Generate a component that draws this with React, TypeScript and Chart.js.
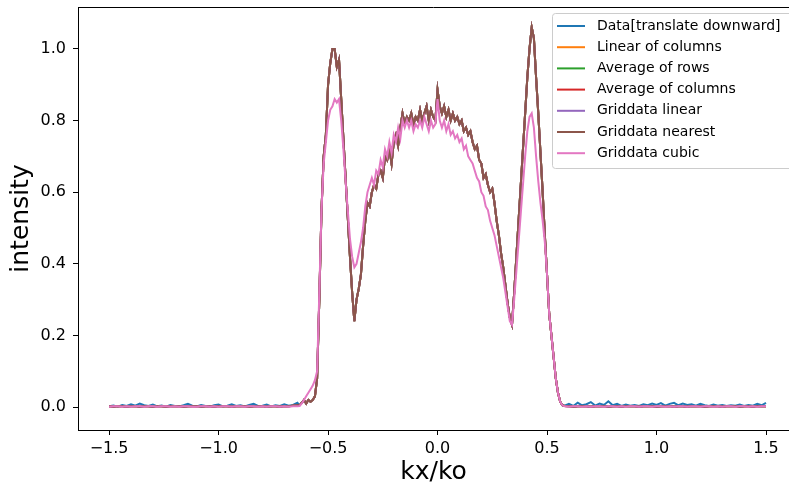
import { useEffect, useRef } from "react";
import { Chart, registerables } from "chart.js";

Chart.register(...registerables);

// ---- sample grid (kx/ko) ----
function grid(start: number, count: number, step: number): number[] {
  return Array.from({ length: count }, (_, i) => Math.round((start + i * step) * 1000) / 1000);
}
const kxLeft = grid(-1.5, 44, 0.02);
const kxMid = grid(-0.63, 121, 0.01);
const kxRight = grid(0.58, 47, 0.02);
const kx = [...kxLeft, ...kxMid, ...kxRight];

// ---- series values ----
const dataLeft = [
  0.002, 0.004, 0.001, 0.006, 0.003, 0.008, 0.004, 0.010, 0.005, 0.003,
  0.007, 0.002, 0.004, 0.001, 0.006, 0.003, 0.002, 0.005, 0.009, 0.004,
  0.002, 0.006, 0.003, 0.001, 0.005, 0.007, 0.002, 0.004, 0.008, 0.003,
  0.005, 0.002, 0.006, 0.009, 0.003, 0.004, 0.007, 0.002, 0.005, 0.003,
  0.008, 0.004, 0.006, 0.012,
];
const dataRight = [
  0.004, 0.009, 0.003, 0.012, 0.005, 0.008, 0.014, 0.004, 0.010, 0.006,
  0.016, 0.005, 0.009, 0.003, 0.007, 0.004, 0.006, 0.003, 0.008, 0.005,
  0.010, 0.006, 0.011, 0.004, 0.009, 0.012, 0.005, 0.010, 0.006, 0.008,
  0.004, 0.009, 0.005, 0.003, 0.007, 0.004, 0.006, 0.003, 0.005, 0.004,
  0.007, 0.003, 0.006, 0.004, 0.009, 0.005, 0.012,
];

const nearestLeft = [
  0.002, 0.001, 0.003, 0.002, 0.001, 0.002, 0.003, 0.001, 0.002, 0.002,
  0.001, 0.003, 0.002, 0.001, 0.002, 0.003, 0.002, 0.001, 0.002, 0.002,
  0.003, 0.001, 0.002, 0.002, 0.001, 0.003, 0.002, 0.002, 0.001, 0.002,
  0.003, 0.002, 0.001, 0.002, 0.002, 0.003, 0.001, 0.002, 0.002, 0.001,
  0.003, 0.002, 0.004, 0.006,
];
const nearestMid = [
  0.005, 0.012, 0.02, 0.01, 0.02, 0.015, 0.02, 0.03, 0.08, 0.30,
  0.55, 0.70, 0.76, 0.90, 0.96, 1.00, 1.00, 0.95, 0.97, 0.86,
  0.75, 0.64, 0.53, 0.42, 0.32, 0.24, 0.30, 0.33, 0.37, 0.45,
  0.52, 0.57, 0.56, 0.60, 0.62, 0.61, 0.65, 0.66, 0.64, 0.70,
  0.69, 0.72, 0.68, 0.74, 0.76, 0.73, 0.78, 0.82, 0.79, 0.81,
  0.80, 0.82, 0.79, 0.81, 0.80, 0.83, 0.80, 0.82, 0.84, 0.80,
  0.83, 0.81, 0.80, 0.885, 0.84, 0.82, 0.84, 0.81, 0.83, 0.80,
  0.82, 0.80, 0.81, 0.79, 0.80, 0.77, 0.78, 0.76, 0.77, 0.74,
  0.72, 0.73, 0.69, 0.68, 0.64, 0.65, 0.62, 0.60, 0.61, 0.57,
  0.52, 0.48, 0.43, 0.39, 0.34, 0.29, 0.25, 0.23, 0.32, 0.42,
  0.52, 0.62, 0.72, 0.82, 0.92, 1.00, 1.06, 1.03, 0.92, 0.82,
  0.71, 0.60, 0.48, 0.37, 0.26, 0.20, 0.14, 0.08, 0.04, 0.015,
  0.005,
];
const nearestRight = [
  0.003, 0.002, 0.001, 0.002, 0.003, 0.002, 0.001, 0.002, 0.002, 0.003,
  0.001, 0.002, 0.002, 0.001, 0.003, 0.002, 0.002, 0.001, 0.002, 0.003,
  0.002, 0.001, 0.002, 0.002, 0.003, 0.001, 0.002, 0.002, 0.001, 0.003,
  0.002, 0.002, 0.001, 0.002, 0.003, 0.002, 0.001, 0.002, 0.002, 0.003,
  0.001, 0.002, 0.002, 0.001, 0.003, 0.002, 0.002,
];

const cubicLeft = [
  0.001, 0.002, 0.002, 0.001, 0.002, 0.001, 0.002, 0.002, 0.001, 0.002,
  0.002, 0.001, 0.002, 0.002, 0.001, 0.002, 0.001, 0.002, 0.002, 0.001,
  0.001, 0.002, 0.002, 0.001, 0.002, 0.001, 0.002, 0.002, 0.001, 0.002,
  0.002, 0.001, 0.002, 0.002, 0.001, 0.002, 0.001, 0.002, 0.002, 0.001,
  0.002, 0.001, 0.002, 0.002,
];
const cubicMid = [
  0.003, 0.01, 0.02, 0.03, 0.04, 0.05, 0.06, 0.075, 0.10, 0.32,
  0.55, 0.68, 0.74, 0.80, 0.83, 0.84, 0.86, 0.85, 0.86, 0.80,
  0.72, 0.63, 0.55, 0.47, 0.42, 0.39, 0.40, 0.43, 0.46, 0.50,
  0.56, 0.60, 0.62, 0.64, 0.62, 0.66, 0.65, 0.69, 0.67, 0.72,
  0.70, 0.74, 0.71, 0.76, 0.74, 0.78, 0.75, 0.80, 0.78, 0.80,
  0.78, 0.80, 0.77, 0.79, 0.78, 0.80, 0.78, 0.81, 0.79, 0.77,
  0.80, 0.78, 0.79, 0.86, 0.80, 0.78, 0.80, 0.77, 0.79, 0.76,
  0.77, 0.75, 0.76, 0.74, 0.75, 0.72, 0.73, 0.70, 0.69, 0.68,
  0.66, 0.64, 0.63, 0.60, 0.59, 0.56, 0.55, 0.52, 0.50, 0.48,
  0.45, 0.42, 0.39, 0.36, 0.32, 0.28, 0.24, 0.23, 0.30, 0.38,
  0.46, 0.54, 0.62, 0.70, 0.77, 0.81, 0.82, 0.78, 0.70, 0.63,
  0.57, 0.52, 0.46, 0.37, 0.26, 0.20, 0.14, 0.08, 0.04, 0.015,
  0.005,
];
const cubicRight = [
  0.002, 0.001, 0.002, 0.002, 0.001, 0.002, 0.001, 0.002, 0.002, 0.001,
  0.002, 0.002, 0.001, 0.002, 0.001, 0.002, 0.002, 0.001, 0.002, 0.002,
  0.001, 0.002, 0.002, 0.001, 0.002, 0.001, 0.002, 0.002, 0.001, 0.002,
  0.002, 0.001, 0.002, 0.002, 0.001, 0.002, 0.001, 0.002, 0.002, 0.001,
  0.002, 0.002, 0.001, 0.002, 0.001, 0.002, 0.002,
];

const dataSeries = [...dataLeft, ...nearestMid, ...dataRight];
const nearestSeries = [...nearestLeft, ...nearestMid, ...nearestRight];
const cubicSeries = [...cubicLeft, ...cubicMid, ...cubicRight];

const seriesLabels = [
  "Data[translate downward]",
  "Linear of columns",
  "Average of rows",
  "Average of columns",
  "Griddata linear",
  "Griddata nearest",
  "Griddata cubic",
];
const seriesValues = [
  dataSeries,
  nearestSeries,
  nearestSeries,
  nearestSeries,
  nearestSeries,
  nearestSeries,
  cubicSeries,
];
const seriesColors = ["#1f77b4", "#ff7f0e", "#2ca02c", "#d62728", "#9467bd", "#8c564b", "#e377c2"];

const xTicks = [-1.5, -1.0, -0.5, 0.0, 0.5, 1.0, 1.5];
const yTicks = [0.0, 0.2, 0.4, 0.6, 0.8, 1.0];

const FONT = "'DejaVu Sans', sans-serif";

function fmt(v: number): string {
  if (Math.abs(v) < 1e-9) return "0.0";
  return v.toFixed(1).replace("-", "\u2212");
}

const framePlugin = {
  id: "mplFrame",
  afterDraw(chart: any) {
    const { ctx, chartArea } = chart;
    ctx.save();
    // top spine
    ctx.strokeStyle = "#000";
    ctx.lineWidth = 1;
    ctx.beginPath();
    ctx.moveTo(chartArea.left, chartArea.top + 0.5);
    ctx.lineTo(chart.width, chartArea.top + 0.5);
    ctx.stroke();

    // legend
    const x0 = 552.5, y0 = 13.5, w = 240, h = 155, r = 3;
    ctx.beginPath();
    ctx.moveTo(x0 + r, y0);
    ctx.lineTo(x0 + w - r, y0);
    ctx.quadraticCurveTo(x0 + w, y0, x0 + w, y0 + r);
    ctx.lineTo(x0 + w, y0 + h - r);
    ctx.quadraticCurveTo(x0 + w, y0 + h, x0 + w - r, y0 + h);
    ctx.lineTo(x0 + r, y0 + h);
    ctx.quadraticCurveTo(x0, y0 + h, x0, y0 + h - r);
    ctx.lineTo(x0, y0 + r);
    ctx.quadraticCurveTo(x0, y0, x0 + r, y0);
    ctx.closePath();
    ctx.fillStyle = "rgba(255,255,255,0.8)";
    ctx.fill();
    ctx.strokeStyle = "#cccccc";
    ctx.lineWidth = 1;
    ctx.stroke();

    ctx.font = `14px ${FONT}`;
    ctx.textBaseline = "middle";
    ctx.textAlign = "left";
    seriesLabels.forEach((lab, i) => {
      const y = 26 + i * 21.2;
      ctx.strokeStyle = seriesColors[i];
      ctx.lineWidth = 2;
      ctx.beginPath();
      ctx.moveTo(557, y);
      ctx.lineTo(585, y);
      ctx.stroke();
      ctx.fillStyle = "#000";
      ctx.fillText(lab, 597, y);
    });
    ctx.restore();
  },
};

export default function App() {
  const ref = useRef<HTMLCanvasElement>(null);

  useEffect(() => {
    document.body.style.margin = "0";
    const datasets = seriesLabels.map((label, i) => ({
      label,
      data: kx.map((x, j) => ({ x, y: seriesValues[i][j] })),
      borderColor: seriesColors[i],
      backgroundColor: seriesColors[i],
      borderWidth: 2,
      pointRadius: 0,
      tension: 0,
      fill: false,
      order: seriesLabels.length - 1 - i,
    }));

    const chart = new Chart(ref.current!, {
      type: "line",
      data: { datasets },
      plugins: [framePlugin],
      options: {
        animation: false,
        responsive: false,
        devicePixelRatio: 1,
        layout: { padding: { top: 7, left: 0, right: 0, bottom: 0 } },
        plugins: { legend: { display: false }, tooltip: { enabled: false } },
        scales: {
          x: {
            type: "linear",
            min: -1.642,
            max: 1.605,
            afterBuildTicks: (s: any) => {
              s.ticks = xTicks.map((v) => ({ value: v }));
            },
            afterFit: (s: any) => {
              s.height = 59;
              s.paddingLeft = 0;
              s.paddingRight = 0;
            },
            ticks: {
              autoSkip: false,
              maxRotation: 0,
              padding: 4,
              color: "#000",
              font: { family: FONT, size: 16 },
              callback: (v: any) => fmt(Number(v)),
            },
            grid: {
              display: true,
              drawOnChartArea: false,
              drawTicks: true,
              tickLength: 5,
              tickColor: "#000",
            },
            border: { display: true, color: "#000", width: 1 },
            title: {
              display: true,
              text: "kx/ko",
              color: "#000",
              font: { family: FONT, size: 25 },
              padding: { top: 0, bottom: 2 },
            },
          },
          y: {
            type: "linear",
            min: -0.064,
            max: 1.117,
            afterBuildTicks: (s: any) => {
              s.ticks = yTicks.map((v) => ({ value: v }));
            },
            afterFit: (s: any) => {
              s.width = 78;
              s.paddingTop = 0;
              s.paddingBottom = 0;
            },
            ticks: {
              autoSkip: false,
              padding: 7,
              color: "#000",
              font: { family: FONT, size: 16 },
              callback: (v: any) => fmt(Number(v)),
            },
            grid: {
              display: true,
              drawOnChartArea: false,
              drawTicks: true,
              tickLength: 5,
              tickColor: "#000",
            },
            border: { display: true, color: "#000", width: 1 },
            title: {
              display: true,
              text: "intensity",
              color: "#000",
              font: { family: FONT, size: 25 },
              padding: { top: 6, bottom: 0 },
            },
          },
        },
      },
    });
    return () => chart.destroy();
  }, []);

  return (
    <div style={{ width: 789, height: 489 }}>
      <canvas ref={ref} width={789} height={489} style={{ display: "block" }} />
    </div>
  );
}
